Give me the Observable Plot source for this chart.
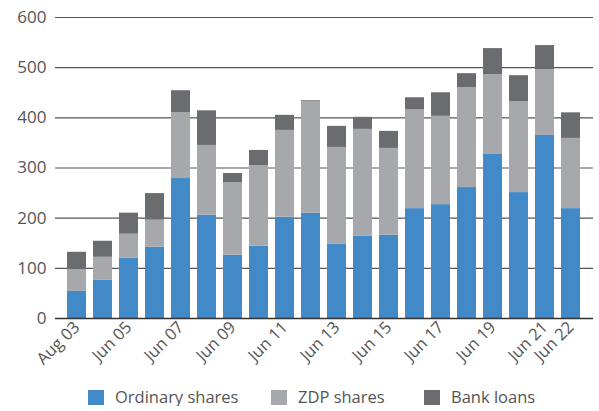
<!DOCTYPE html>
<html>
<head>
<meta charset="utf-8">
<script src="https://cdn.jsdelivr.net/npm/d3@7"></script>
<script src="https://cdn.jsdelivr.net/npm/@observablehq/plot@0.6"></script>
<style>
  body { margin: 0; background: #fff; font-family: "Open Sans", sans-serif; }
  #chart svg { display: block; }
  .legend { display: flex; align-items: center; margin-top: 8px; padding-left: 88px; font-size: 16.5px; color: #555; height: 18px; line-height: 18px; }
  .legend .item { display: flex; align-items: center; }
  .legend .sw { width: 16px; height: 15px; margin-right: 11px; }
</style>
</head>
<body>
<div id="chart"></div>
<div class="legend" id="legend"></div>
<script>
const periods = ["Aug 03","Jun 04","Jun 05","Jun 06","Jun 07","Jun 08","Jun 09","Jun 10","Jun 11","Jun 12","Jun 13","Jun 14","Jun 15","Jun 16","Jun 17","Jun 18","Jun 19","Jun 20","Jun 21","Jun 22"];
const ordinaryShares = [54, 76, 120, 142, 279, 206, 126, 144, 202, 210, 148, 164, 166, 219, 227, 261, 327, 251, 365, 219];
const zdpShares      = [44, 46, 48, 54, 131, 139, 145, 161, 173, 222, 193, 213, 173, 197, 176, 199, 159, 181, 131, 140];
const bankLoans      = [34, 32, 42, 53, 44, 69, 18, 30, 30, 2, 42, 24, 34, 24, 47, 28, 52, 52, 48, 51];
const tickLabels = ["Aug 03","Jun 05","Jun 07","Jun 09","Jun 11","Jun 13","Jun 15","Jun 17","Jun 19","Jun 21","Jun 22"];
const yTicks = [0, 100, 200, 300, 400, 500, 600];
const seriesNames = ["Ordinary shares", "ZDP shares", "Bank loans"];
const seriesColors = ["#4289c8", "#a7a8ab", "#6b6c70"];

const seriesValues = [ordinaryShares, zdpShares, bankLoans];
const data = [];
seriesNames.forEach((s, k) => periods.forEach((p, i) => data.push({period: p, series: s, value: seriesValues[k][i]})));

const chart = Plot.plot({
  width: 599,
  height: 380,
  marginLeft: 55,
  marginRight: 6,
  marginTop: 17,
  marginBottom: 62,
  style: {fontFamily: "Open Sans, sans-serif", fontSize: "16px", color: "#555", background: "#fff"},
  x: {type: "band", domain: periods, paddingInner: 0.26, paddingOuter: 0.11},
  y: {domain: [0, 600]},
  color: {domain: seriesNames, range: seriesColors},
  marks: [
    Plot.ruleY(yTicks.filter(d => d > 0), {stroke: "#555", strokeWidth: 1.2}),
    Plot.barY(data, {x: "period", y: "value", fill: "series", order: seriesNames}),
    Plot.ruleY([0], {stroke: "#333", strokeWidth: 1.5}),
    Plot.axisY({ticks: yTicks, tickSize: 0, tickPadding: 9, label: null, fontSize: 17}),
    Plot.axisX({ticks: tickLabels, tickSize: 0, tickPadding: 6, tickRotate: -45, label: null, fontSize: 16.5})
  ]
});
document.getElementById("chart").appendChild(chart);

const legendLeft = [88, 271, 424];
const legend = document.getElementById("legend");
legend.style.position = "relative";
seriesNames.forEach((s, k) => {
  const item = document.createElement("div");
  item.className = "item";
  item.style.position = "absolute";
  item.style.left = legendLeft[k] + "px";
  item.style.top = "0px";
  const sw = document.createElement("span");
  sw.className = "sw";
  sw.style.background = seriesColors[k];
  const t = document.createElement("span");
  t.textContent = s;
  item.appendChild(sw);
  item.appendChild(t);
  legend.appendChild(item);
});
legend.style.paddingLeft = "0";
</script>
</body>
</html>
